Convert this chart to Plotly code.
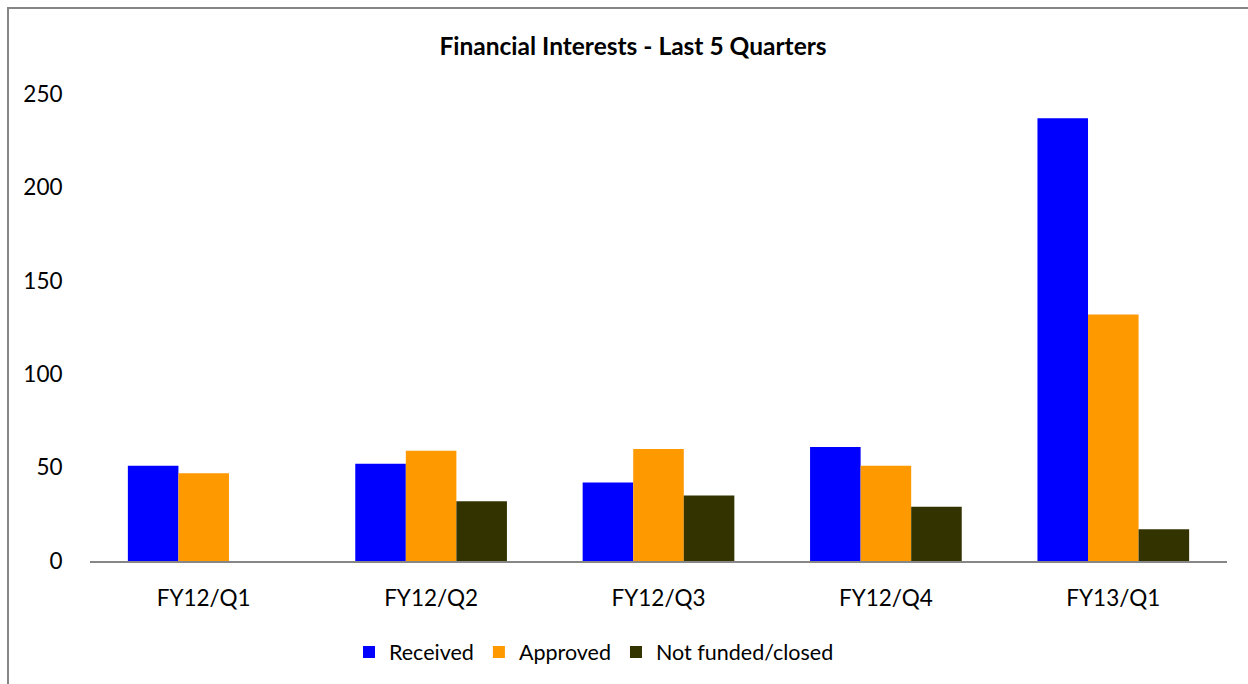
import plotly.graph_objects as go

categories = ["FY12/Q1", "FY12/Q2", "FY12/Q3", "FY12/Q4", "FY13/Q1"]
received = [51, 52, 42, 61, 237]
approved = [47, 59, 60, 51, 132]
not_funded = [0, 32, 35, 29, 17]
y_ticks = [0, 50, 100, 150, 200, 250]

FONT = "Lato"
W, H = 1248, 684
ML, MR, MT, MB = 90, 21, 94, 123
pw = W - ML - MR
ph = H - MT - MB

fig = go.Figure()
fig.add_bar(name="Received", x=categories, y=received, marker_color="#0000FF",
            marker_line_width=0)
fig.add_bar(name="Approved", x=categories, y=approved, marker_color="#FF9900",
            marker_line_width=0)
fig.add_bar(name="Not funded/closed", x=categories, y=not_funded, marker_color="#333300",
            marker_line_width=0)

def px_x(p):
    return (p - ML) / pw

def px_y(p):
    return (H - MB - p) / ph

fig.add_shape(type="rect", xref="paper", yref="paper",
              x0=px_x(8), x1=px_x(1270), y0=px_y(700), y1=px_y(8),
              line=dict(color="#868686", width=2), fillcolor="rgba(0,0,0,0)", layer="below")

fig.update_layout(
    width=W, height=H,
    margin=dict(l=ML, r=MR, t=MT, b=MB),
    paper_bgcolor="white", plot_bgcolor="white",
    font=dict(family=FONT, size=22.5, color="#000000"),
    title=dict(text="<b>Financial Interests - Last 5 Quarters</b>",
               x=px_x(633), xanchor="center", xref="paper", y=1 - 46 / H, yanchor="middle",
               font=dict(family=FONT, size=24.5, color="#000000")),
    barmode="group", bargap=0.333, bargroupgap=0,
    showlegend=True,
    legend=dict(orientation="h", x=px_x(349), xanchor="left", y=px_y(652), yanchor="middle",
                font=dict(family=FONT, size=21.5), traceorder="normal"),
    xaxis=dict(showline=True, linecolor="#868686", linewidth=2, showgrid=False,
               ticks="outside", ticklen=16, tickcolor="rgba(0,0,0,0)",
               tickfont=dict(family=FONT, size=22.5)),
    yaxis=dict(range=[0, 250], tickvals=y_ticks, showgrid=False, zeroline=False,
               showline=False, ticks="outside", ticklen=22, tickcolor="rgba(0,0,0,0)",
               tickfont=dict(family=FONT, size=22.5)),
)

fig.write_html("out.html", config={"displayModeBar": False},
               post_script="document.body.style.margin='0';document.body.style.overflow='hidden';")
